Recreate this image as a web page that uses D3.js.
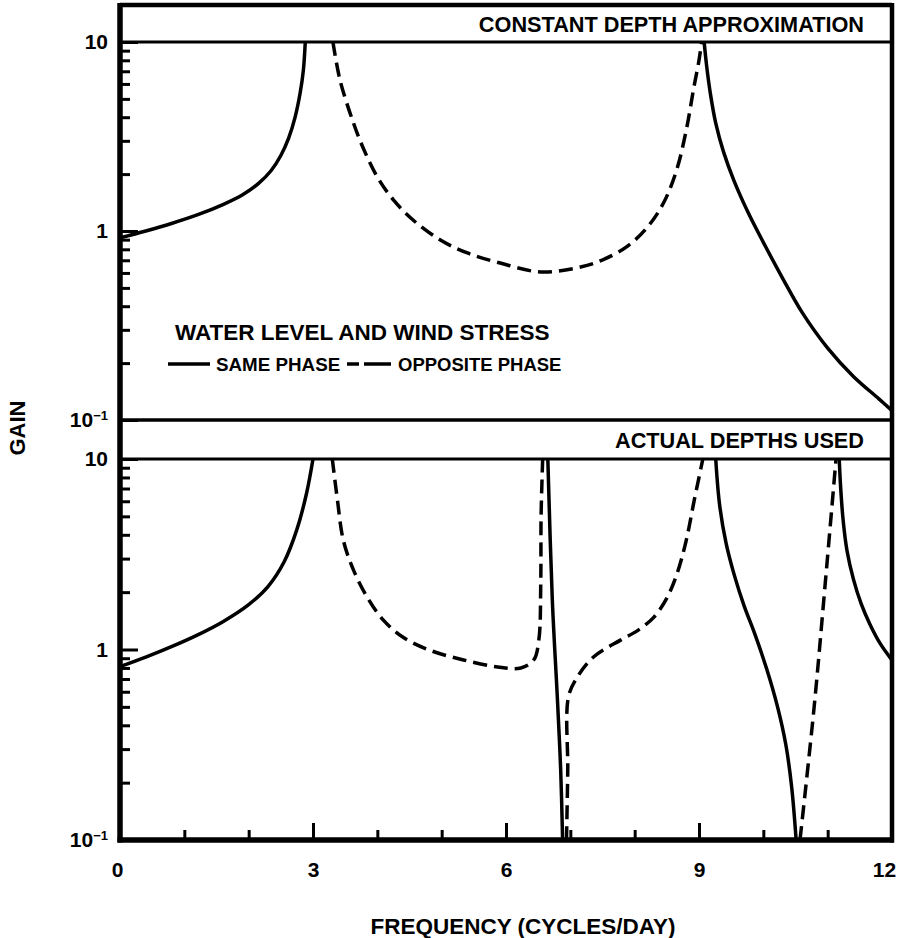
<!DOCTYPE html>
<html>
<head>
<meta charset="utf-8">
<script src="https://cdn.jsdelivr.net/npm/d3@7"></script>
<style>
 body { margin: 0; background: #fff; }
 text { font-family: "Liberation Sans", Arial, sans-serif; font-weight: bold; fill: #000; }
 .curve { fill: none; stroke: #000; stroke-width: 3.5; stroke-linejoin: round; stroke-linecap: butt; }
 .dashed { stroke-dasharray: 14, 7; }
 .frame { stroke: #000; fill: none; }
 .tick line { stroke: #000; stroke-width: 3; }
</style>
</head>
<body>
<div id="chart"></div>
<script>
// frequency ticks (cycles/day)
var freqMajor = [0, 3, 6, 9, 12];
var freqMinor = [1, 2, 4, 5, 7, 8, 10, 11];
var gainMajor = [0.1, 1, 10];

// --- constant depth approximation: [frequency, gain]
var topSame1 = [[0, 0.92], [0.4, 1.0], [0.8, 1.096], [1.2, 1.216], [1.6, 1.38], [1.9, 1.55],
  [2.15, 1.78], [2.35, 2.09], [2.5, 2.51], [2.62, 3.09], [2.72, 3.98], [2.8, 5.37],
  [2.85, 7.08], [2.88, 10]];
var topOpp1 = [[3.31, 10], [3.42, 6.29], [3.63, 3.72], [3.78, 2.75], [4.0, 1.93], [4.25, 1.46],
  [4.56, 1.14], [4.98, 0.896], [5.4, 0.765], [5.91, 0.677], [6.54, 0.607], [7.16, 0.645],
  [7.52, 0.708], [7.89, 0.832], [8.2, 1.05], [8.45, 1.41], [8.65, 2.09], [8.8, 3.39],
  [8.92, 5.75], [9.0, 8.0], [9.04, 10]];
var topSame2 = [[9.08, 10], [9.12, 7.41], [9.18, 5.25], [9.26, 3.72], [9.38, 2.63], [9.54, 1.86],
  [9.76, 1.26], [10.0, 0.871], [10.3, 0.562], [10.6, 0.372], [11.0, 0.24], [11.4, 0.17],
  [11.8, 0.129], [12, 0.112]];

// --- actual depths used
var botSame1 = [[0, 0.813], [0.4, 0.912], [0.8, 1.035], [1.2, 1.19], [1.6, 1.4], [2.0, 1.72],
  [2.3, 2.14], [2.55, 2.88], [2.75, 4.27], [2.9, 6.61], [3.0, 10]];
var botOpp1 = [[3.3, 10], [3.38, 6.09], [3.47, 3.76], [3.63, 2.61], [3.84, 1.89], [4.09, 1.43],
  [4.4, 1.16], [4.82, 0.99], [5.34, 0.881], [5.87, 0.81], [6.23, 0.8], [6.43, 0.88],
  [6.51, 1.12], [6.54, 2.23], [6.545, 4.97], [6.57, 10]];
var botSame2 = [[6.65, 10], [6.72, 1.82], [6.8, 0.543], [6.85, 0.233], [6.88, 0.1]];
var botOpp2 = [[6.94, 0.1], [6.96, 0.233], [6.97, 0.563], [7.11, 0.717], [7.36, 0.914], [7.78, 1.12],
  [8.05, 1.26], [8.3, 1.48], [8.5, 1.86], [8.66, 2.51], [8.8, 3.72], [8.93, 6.17], [9.06, 10]];
var botSame3 = [[9.26, 10], [9.32, 5.75], [9.42, 3.63], [9.55, 2.45], [9.7, 1.7], [9.87, 1.2],
  [10.05, 0.794], [10.22, 0.501], [10.35, 0.316], [10.44, 0.19], [10.51, 0.1]];
var botOpp3 = [[10.57, 0.1], [10.79, 0.5], [10.96, 2.18], [11.13, 10]];
var botSame4 = [[11.18, 10], [11.2, 7.24], [11.24, 4.79], [11.3, 3.31], [11.4, 2.34], [11.52, 1.74],
  [11.66, 1.35], [11.82, 1.07], [12, 0.88]];

var width = 899, height = 938;
var svg = d3.select("#chart").append("svg")
    .attr("width", width)
    .attr("height", height);

var x = d3.scaleLinear().domain([0, 12]).range([120, 892]);

var panels = [
  { id: "p1", title: "CONSTANT DEPTH APPROXIMATION", headTop: 5, top: 42, bottom: 420,
    series: [[topSame1, false], [topOpp1, true], [topSame2, false]] },
  { id: "p2", title: "ACTUAL DEPTHS USED", headTop: 420, top: 459, bottom: 840,
    series: [[botSame1, false], [botOpp1, true], [botSame2, false], [botOpp2, true],
             [botSame3, false], [botOpp3, true], [botSame4, false]] }
];

var minorGain = [];
[0.1, 1].forEach(function(b) { for (var k = 2; k <= 9; k++) minorGain.push(b * k); });

panels.forEach(function(p) {
  var y = d3.scaleLog().domain([0.1, 10]).range([p.bottom, p.top]);
  var g = svg.append("g");

  // clip for curves
  svg.append("clipPath").attr("id", "clip-" + p.id)
    .append("rect")
    .attr("x", x(0)).attr("y", p.top)
    .attr("width", x(12) - x(0)).attr("height", p.bottom - p.top);

  // minor ticks
  g.append("g")
    .attr("transform", "translate(" + x(0) + ",0)")
    .call(d3.axisLeft(y).tickValues(minorGain).tickSizeInner(-10).tickSizeOuter(0).tickFormat(""))
    .call(function(a) { a.select(".domain").remove(); });

  // major ticks + labels
  var major = g.append("g")
    .attr("transform", "translate(" + x(0) + ",0)")
    .call(d3.axisLeft(y).tickValues(gainMajor).tickSizeInner(-18).tickSizeOuter(0)
      .tickPadding(12).tickFormat(""))
    .call(function(a) { a.select(".domain").remove(); });
  major.selectAll(".tick text")
    .attr("font-size", 21)
    .attr("fill", "#000")
    .each(function(d) {
      var t = d3.select(this);
      if (d === 0.1) {
        t.text("10");
        t.append("tspan").attr("font-size", 13).attr("dy", "-0.55em").text("\u22121");
      } else {
        t.text(d3.format("d")(d));
      }
    });

  // header line and panel 10-line
  svg.append("line").attr("class", "frame")
    .attr("x1", x(0)).attr("x2", x(12)).attr("y1", p.top).attr("y2", p.top)
    .attr("stroke-width", 3);
  svg.append("line").attr("class", "frame")
    .attr("x1", x(0)).attr("x2", x(12)).attr("y1", p.headTop).attr("y2", p.headTop)
    .attr("stroke-width", p.headTop < 10 ? 4.5 : 3.5);

  svg.append("text")
    .attr("x", 864).attr("y", (p.headTop + p.top) / 2 + 8)
    .attr("text-anchor", "end")
    .attr("font-size", 21.7)
    .text(p.title);

  // curves
  var line = d3.line()
    .x(function(d) { return x(d[0]); })
    .y(function(d) { return y(d[1]); })
    .curve(d3.curveCatmullRom.alpha(0.5));

  var cg = svg.append("g").attr("clip-path", "url(#clip-" + p.id + ")");
  p.series.forEach(function(s) {
    cg.append("path")
      .attr("class", s[1] ? "curve dashed" : "curve")
      .attr("d", line(s[0]));
  });
});

// x axis ticks pointing inward
var yBase = 840;
svg.append("g")
  .attr("transform", "translate(0," + yBase + ")")
  .call(d3.axisBottom(x).tickValues(freqMinor).tickSizeInner(-10).tickSizeOuter(0).tickFormat(""))
  .call(function(a) { a.select(".domain").remove(); });
var xMaj = svg.append("g")
  .attr("transform", "translate(0," + yBase + ")")
  .call(d3.axisBottom(x).tickValues(freqMajor).tickSizeInner(-17).tickSizeOuter(0).tickPadding(22))
  .call(function(a) { a.select(".domain").remove(); });
xMaj.selectAll(".tick text").attr("font-size", 21).attr("fill", "#000")
  .attr("dx", function(d) { return d === 0 ? -3 : (d === 12 ? -8 : 0); });

// frame
svg.append("line").attr("class", "frame").attr("stroke-width", 5.5)
  .attr("x1", x(0)).attr("x2", x(0)).attr("y1", 3).attr("y2", yBase + 2.5);
svg.append("line").attr("class", "frame").attr("stroke-width", 5.5)
  .attr("x1", x(0) - 2.5).attr("x2", x(12) + 2).attr("y1", yBase).attr("y2", yBase);
svg.append("line").attr("class", "frame").attr("stroke-width", 4.5)
  .attr("x1", x(12)).attr("x2", x(12)).attr("y1", 3).attr("y2", yBase + 2.5);

// legend
var leg = svg.append("g");
leg.append("text").attr("x", 175).attr("y", 340).attr("font-size", 22.5)
  .text("WATER LEVEL AND WIND STRESS");
leg.append("line").attr("x1", 168).attr("x2", 210).attr("y1", 364).attr("y2", 364)
  .attr("stroke", "#000").attr("stroke-width", 3.5);
leg.append("text").attr("x", 216).attr("y", 371).attr("font-size", 18.8).text("SAME PHASE");
leg.append("line").attr("x1", 347).attr("x2", 391).attr("y1", 364).attr("y2", 364)
  .attr("stroke", "#000").attr("stroke-width", 3.5).attr("stroke-dasharray", "12,5,27");
leg.append("text").attr("x", 398).attr("y", 371).attr("font-size", 18.5).text("OPPOSITE PHASE");

// axis titles
svg.append("text")
  .attr("transform", "translate(25,428) rotate(-90)")
  .attr("text-anchor", "middle")
  .attr("font-size", 22)
  .text("GAIN");
svg.append("text")
  .attr("x", 523).attr("y", 934)
  .attr("text-anchor", "middle")
  .attr("font-size", 22.5)
  .text("FREQUENCY (CYCLES/DAY)");
</script>
</body>
</html>
